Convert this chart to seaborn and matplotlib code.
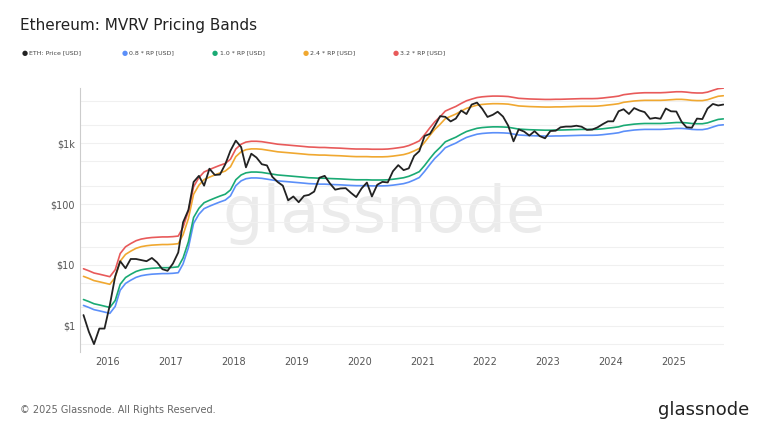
import numpy as np, pandas as pd
import matplotlib
matplotlib.use("Agg")
import matplotlib.pyplot as plt
import matplotlib.ticker as mt
import seaborn as sns

months = pd.date_range("2015-08-01", "2025-10-01", freq="MS") + pd.Timedelta(days=14)
price = [1.5,0.8,0.5,0.9,0.9,
 2.2,6.5,11.5,8.8,12.5,12.5,12,11.5,13,11,8.5,8,
 10.5,16,50,80,230,290,200,380,300,305,450,750,
 1100,860,400,670,580,450,430,280,230,200,115,133,
 107,136,141,160,270,290,218,172,180,182,152,130,
 180,225,133,207,231,226,345,435,360,385,615,737,
 1310,1420,1920,2770,2700,2270,2530,3430,3000,4300,4630,3680,
 2690,2920,3280,2730,1940,1070,1680,1550,1330,1570,1300,1200,
 1580,1600,1820,1870,1870,1930,1860,1650,1670,1810,2050,2280,
 2280,3340,3600,3010,3760,3430,3230,2510,2600,2510,3700,3330,
 3300,2230,1820,1790,2530,2480,3700,4400,4150,4300]
rp = [2.7,2.5,2.3,2.2,2.1,
 2.0,2.6,4.8,6.2,7.0,7.8,8.3,8.6,8.8,8.9,9.0,9.0,
 9.1,9.3,13,24,60,85,105,115,125,135,145,170,
 250,300,325,335,335,330,320,310,300,295,290,285,
 280,275,270,268,265,265,262,260,258,255,252,250,
 250,250,248,248,248,250,255,262,270,285,310,340,
 430,560,700,850,1050,1150,1250,1400,1550,1650,1750,1800,
 1830,1850,1850,1840,1820,1760,1700,1680,1660,1650,1640,1630,
 1630,1640,1640,1650,1660,1670,1680,1680,1680,1690,1720,1760,
 1800,1850,1950,2000,2050,2080,2100,2100,2100,2100,2120,2150,
 2180,2180,2150,2100,2080,2080,2150,2300,2450,2500]

df = pd.DataFrame({"date": months, "price": price, "rp": rp})
bands = [("0.8 * RP [USD]", 0.8, "#5b8ff9"), ("1.0 * RP [USD]", 1.0, "#1aaa74"),
         ("2.4 * RP [USD]", 2.4, "#f0a830"), ("3.2 * RP [USD]", 3.2, "#e85a5a")]

sns.set_style("white")
fig = plt.figure(figsize=(7.68, 4.32), dpi=100)
ax = fig.add_axes([0.104, 0.185, 0.839, 0.611])
for name, m, c in bands:
    sns.lineplot(x=df["date"], y=df["rp"] * m, ax=ax, color=c, lw=1.2, label=name)
sns.lineplot(x=df["date"], y=df["price"], ax=ax, color="#222222", lw=1.3, label="ETH: Price [USD]")
ax.set_yscale("log")
ax.set_ylim(0.37, 8000)
ax.set_xlim(pd.Timestamp("2015-07-25"), pd.Timestamp("2025-10-20"))
ax.yaxis.set_major_locator(mt.FixedLocator([1, 10, 100, 1000]))
ax.yaxis.set_major_formatter(mt.FixedFormatter(["$1", "$10", "$100", "$1k"]))
ax.yaxis.set_minor_locator(mt.LogLocator(subs=[2, 5]))
ax.yaxis.set_minor_formatter(mt.NullFormatter())
ax.grid(True, which="both", axis="y", color="#f0f0f0", lw=0.8)
ax.set_xticks([pd.Timestamp(f"{y}-01-01") for y in range(2016, 2026)])
ax.set_xticklabels([str(y) for y in range(2016, 2026)])
ax.tick_params(labelsize=7, colors="#555555", length=0)
ax.set_xlabel(""); ax.set_ylabel("")
for s in ["top", "right", "bottom"]:
    ax.spines[s].set_visible(False)
ax.spines["left"].set_color("#cccccc")
ax.get_legend().remove()

fig.text(0.5, 0.505, "glassnode", fontsize=46, color="#ebebeb", ha="center", va="center", zorder=0)
ax.set_zorder(1); ax.patch.set_alpha(0)
fig.text(0.026, 0.94, "Ethereum: MVRV Pricing Bands", fontsize=11, color="#222222", va="center")
labels = [("ETH: Price [USD]", "#222222")] + [(n, c) for n, _, c in bands]
x = 0.028
for n, c in labels:
    fig.text(x, 0.878, "●", fontsize=5, color=c, va="center")
    fig.text(x + 0.01, 0.878, n, fontsize=4.5, color="#444444", va="center")
    x += 0.01 + len(n) * 0.0064 + 0.018
fig.text(0.026, 0.052, "© 2025 Glassnode. All Rights Reserved.", fontsize=7, color="#666666", va="center")
fig.text(0.975, 0.052, "glassnode", fontsize=13, color="#222222", va="center", ha="right")
fig.savefig("out.png", dpi=100)
